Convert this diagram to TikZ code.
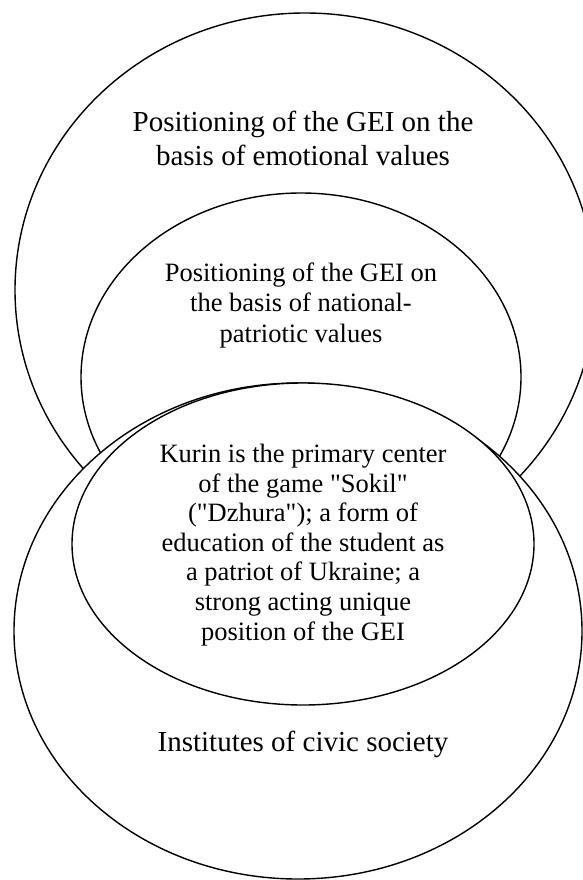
\documentclass[tikz,border=0pt]{standalone}
\usepackage{fontspec}
\setmainfont{Liberation Serif}
\usetikzlibrary{shapes.geometric}
\begin{document}
\begin{tikzpicture}[x=1pt,y=-1pt,
  ring/.style={ellipse, draw=black, line width=1.4pt, fill=white, inner sep=0pt, outer sep=0pt},
  bigtext/.style={align=center, anchor=base, inner sep=0pt, font=\fontsize{29}{33.5}\selectfont},
  smalltext/.style={align=center, anchor=base, inner sep=0pt, font=\fontsize{26.5}{30.5}\selectfont},
  kurtext/.style={align=center, anchor=base, inner sep=0pt, font=\fontsize{26.5}{29.6}\selectfont}]
\useasboundingbox (0,0) rectangle (582,880);
\node[ring, minimum width=580pt, minimum height=554pt] (emo) at (305,290) {};
\node[ring, minimum width=440pt, minimum height=368pt] (nat) at (301,377) {};
\node[ring, minimum width=568pt, minimum height=496pt] (civ) at (298,631) {};
\node[ring, minimum width=462pt, minimum height=322pt] (kur) at (303,544) {};
\node[bigtext] (emotxt) at (303,165) {Positioning of the GEI on the\\basis of emotional values};
\node[smalltext] (nattxt) at (301,342) {Positioning of the GEI on\\the basis of national-\\patriotic values};
\node[kurtext] (kurtxt) at (303,640) {Kurin is the primary center\\of the game \textquotedbl Sokil\textquotedbl\\(\textquotedbl Dzhura\textquotedbl); a form of\\education of the student as\\a patriot of Ukraine; a\\strong acting unique\\position of the GEI};
\node[bigtext] (civtxt) at (303,751) {Institutes of civic society};
\end{tikzpicture}
\end{document}
